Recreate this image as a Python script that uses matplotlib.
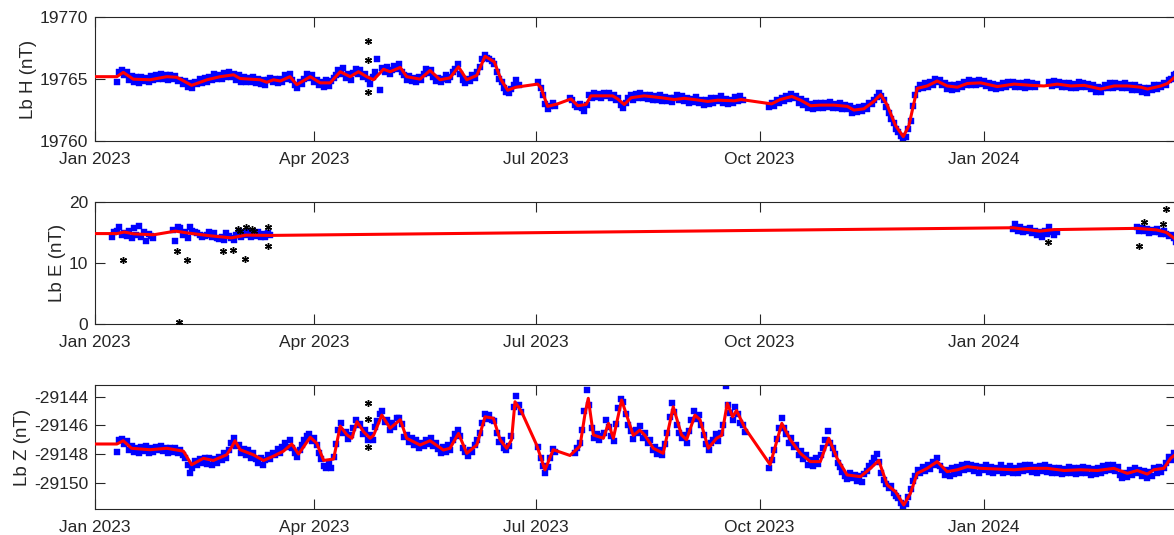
import numpy as np
import pandas as pd
import matplotlib
matplotlib.use("Agg")
import matplotlib.pyplot as plt
import matplotlib.dates as mdates

plt.rcParams['font.family'] = ['Liberation Sans', 'DejaVu Sans']
plt.rcParams['axes.unicode_minus'] = False

T0 = pd.Timestamp('2023-01-01')
X_END_DAY = 444  # days since 2023-01-01 at right edge

# ---------------- H component ----------------
H_red_days = [0, 9, 11.6, 15.7, 22.6, 29.5, 33.6, 39.7, 46, 51.4, 56.9, 59.6, 67.8, 70.6, 73.3, 76.1, 80.1, 82.9,
              88.4, 92.5, 96.6, 100.7, 104.8, 108.2, 111.6, 114.4, 118.5, 121.2, 125.4, 128, 133.5, 137.6, 141.7,
              145.8, 149.3, 152.7, 156.8, 160.2, 164, 166.8, 169.5, 172.9, 181.8, 183.2, 185.9, 190, 195.5, 198.3,
              201.7, 203.7, 207.8, 212.6, 214.7, 217.4, 220.2, 225.6, 232.5, 237.9, 242, 246.2, 251.7, 255.8,
              262.6, 265.4, 277.9, 281.4, 286.2, 289.8, 293.9, 298, 303.5, 309, 311.7, 315.8, 319.9, 322.7, 325.4,
              328.8, 332, 334.3, 337.7, 341.8, 345.9, 350, 354.2, 358.3, 363.8, 370.6, 377.5, 384.3, 389.8, 395.3,
              400.8, 406.3, 413.1, 418.6, 424.1, 429.5, 432.3, 437.8, 440.5, 444]
H_red_vals = [19765.2, 19765.2, 19765.55, 19765.0, 19764.95, 19765.2, 19765.15, 19764.5, 19764.95, 19765.2,
              19765.35, 19765.05, 19764.95, 19764.75, 19764.95, 19764.85, 19765.2, 19764.55, 19765.2, 19764.7,
              19764.7, 19765.6, 19765.2, 19765.6, 19765.2, 19764.95, 19765.8, 19765.6, 19765.95, 19765.2,
              19765.0, 19765.7, 19764.95, 19765.1, 19766.0, 19764.95, 19765.3, 19766.85, 19766.4, 19764.95,
              19764.1, 19764.35, 19764.6, 19764.3, 19762.8, 19763.0, 19763.4, 19762.85, 19762.95, 19763.65,
              19763.65, 19763.65, 19763.4, 19762.95, 19763.5, 19763.65, 19763.5, 19763.35, 19763.45, 19763.35,
              19763.2, 19763.3, 19763.25, 19763.35, 19763.0, 19763.35, 19763.6, 19763.3, 19762.85, 19762.9,
              19762.9, 19762.8, 19762.5, 19762.6, 19763.2, 19763.75, 19762.9, 19761.25, 19760.35, 19761.25,
              19764.25, 19764.45, 19764.85, 19764.45, 19764.35, 19764.65, 19764.7, 19764.4, 19764.6, 19764.5,
              19764.45, 19764.6, 19764.45, 19764.5, 19764.2, 19764.45, 19764.45, 19764.35, 19764.2, 19764.45,
              19764.65, 19765.25]

H_blue_starts = [9, 182, 195, 203, 277, 392]
H_blue_1 = [19764.75, 19765.55, 19765.7, 19765.35, 19765.6, 19764.95, 19765.25, 19764.8, 19765.15, 19764.7,
            19765.2, 19764.85, 19765.1, 19764.75, 19765.25, 19764.9, 19765.35, 19765.0, 19765.4, 19765.05,
            19765.3, 19764.95, 19765.35, 19765.0, 19765.25, 19764.85, 19764.95, 19764.6, 19764.85, 19764.35,
            19764.7, 19764.3, 19764.75, 19764.6, 19765.0, 19764.7, 19765.1, 19764.8, 19765.2, 19764.9,
            19765.45, 19765.05, 19765.35, 19765.0, 19765.5, 19765.15, 19765.6, 19765.2, 19765.45, 19764.9,
            19765.3, 19764.8, 19765.2, 19764.75, 19765.1, 19764.8, 19765.2, 19764.7, 19765.05, 19764.6,
            19764.95, 19764.5, 19764.9, 19765.1, 19764.75, 19765.05, 19764.65, 19765.0, 19764.8, 19765.3,
            19765.0, 19765.45, 19764.95, 19764.5, 19764.3, 19764.75, 19764.6, 19765.0, 19765.4, 19765.1,
            19765.35, 19764.8, 19764.95, 19764.5, 19764.75, 19764.4, 19764.9, 19764.45, 19764.85, 19765.1,
            19765.3, 19765.75, 19765.45, 19765.9, 19765.1, 19765.4, 19764.95, 19765.5, 19765.8, 19765.45,
            19765.7, 19765.15, 19765.4, 19765.0, 19764.6, 19765.2, 19765.55, 19766.6, 19764.1, 19765.9,
            19765.6, 19766.0, 19765.4, 19765.75, 19766.05, 19765.8, 19766.2, 19765.6, 19765.3, 19764.95,
            19765.25, 19764.85, 19765.1, 19764.8, 19765.2, 19764.9, 19765.45, 19765.8, 19765.5, 19765.75,
            19765.2, 19764.85, 19765.1, 19764.75, 19765.0, 19765.3, 19764.9, 19765.2, 19765.55, 19765.8,
            19766.2, 19765.45, 19764.9, 19764.7, 19765.05, 19764.85, 19765.3, 19765.1, 19765.55, 19766.0,
            19766.6, 19766.95, 19766.75, 19766.6, 19766.45, 19766.2, 19765.6, 19765.0, 19764.75, 19764.3,
            19764.0, 19763.85, 19764.2, 19764.55, 19764.9, 19764.5]
H_blue_2 = [19764.75, 19764.3, 19763.7, 19763.0, 19762.55, 19762.85, 19763.05, 19762.8]
H_blue_3 = [19763.5, 19763.3, 19762.95, 19762.75, 19763.0, 19762.7, 19762.45, 19762.9]
H_blue_4 = [19763.75, 19763.5, 19763.9, 19763.55, 19763.8, 19763.45, 19763.85, 19763.6, 19763.9, 19763.5,
            19763.75, 19763.3, 19763.5, 19762.95, 19762.7, 19763.1, 19763.45, 19763.7, 19763.35, 19763.8,
            19763.5, 19763.85, 19763.45, 19763.7, 19763.4, 19763.75, 19763.3, 19763.6, 19763.35, 19763.7,
            19763.25, 19763.55, 19763.2, 19763.5, 19763.15, 19763.45, 19763.7, 19763.3, 19763.6, 19763.2,
            19763.5, 19763.05, 19763.4, 19763.15, 19763.55, 19763.1, 19763.35, 19762.95, 19763.3, 19763.0,
            19763.45, 19763.1, 19763.5, 19763.2, 19763.6, 19763.05, 19763.4, 19763.0, 19763.35, 19763.1,
            19763.55, 19763.2, 19763.6, 19763.3]
H_blue_5 = [19762.75, 19763.1, 19762.85, 19763.3, 19763.05, 19763.5, 19763.2, 19763.65, 19763.4, 19763.8,
            19763.45, 19763.6, 19763.1, 19763.4, 19762.95, 19763.2, 19762.7, 19763.0, 19762.6, 19763.05,
            19762.7, 19763.1, 19762.65, 19763.05, 19762.75, 19763.15, 19762.7, 19763.0, 19762.65, 19763.1,
            19762.6, 19762.95, 19762.55, 19762.85, 19762.3, 19762.65, 19762.35, 19762.75, 19762.4, 19762.8,
            19762.6, 19763.05, 19763.0, 19763.35, 19763.55, 19763.9, 19763.6, 19763.3, 19762.75, 19762.3,
            19761.8, 19761.45, 19761.0, 19760.75, 19760.4, 19760.1, 19760.3, 19760.95, 19761.6, 19762.8,
            19763.7, 19764.2, 19764.5, 19764.3, 19764.7, 19764.4, 19764.8, 19764.55, 19765.0, 19764.75,
            19764.95, 19764.5, 19764.65, 19764.2, 19764.55, 19764.1, 19764.5, 19764.2, 19764.6, 19764.35,
            19764.8, 19764.5, 19764.9, 19764.55, 19764.85, 19764.5, 19764.95, 19764.6, 19764.85, 19764.45,
            19764.7, 19764.3, 19764.6, 19764.2, 19764.55, 19764.3, 19764.7, 19764.4, 19764.8, 19764.5,
            19764.75, 19764.4, 19764.7, 19764.35, 19764.65, 19764.3, 19764.75, 19764.4, 19764.65, 19764.35,
            19764.6]
H_blue_6 = [19764.75, 19764.45, 19764.85, 19764.55, 19764.8, 19764.4, 19764.7, 19764.35, 19764.65, 19764.3,
            19764.6, 19764.25, 19764.75, 19764.4, 19764.7, 19764.35, 19764.6, 19764.2, 19764.5, 19764.0,
            19764.35, 19763.95, 19764.3, 19764.55, 19764.25, 19764.65, 19764.3, 19764.7, 19764.35, 19764.6,
            19764.25, 19764.7, 19764.3, 19764.55, 19764.15, 19764.5, 19764.1, 19764.4, 19763.95, 19764.25,
            19763.9, 19764.3, 19764.1, 19764.5, 19764.2, 19764.55, 19764.35, 19764.7, 19764.55, 19764.9,
            19765.0, 19765.3, 19765.45]
H_star_days = [112.3, 112.3, 112.3]
H_star_vals = [19768.05, 19766.55, 19764.0]

# ---------------- E component ----------------
E_red_days = [0, 9, 12, 16, 24, 33, 38, 47, 56, 62, 72, 377, 379, 388, 394, 428, 436, 440, 444]
E_red_vals = [14.8, 14.8, 15.05, 14.75, 14.6, 15.2, 14.9, 14.45, 14.1, 14.55, 14.5, 15.75, 15.65, 15.2,
              15.45, 15.65, 15.4, 15.0, 13.8]
E_blue_starts = [7, 32, 377, 428]
E_blue_1 = [14.3, 15.0, 15.3, 15.9, 14.6, 14.9, 14.4, 15.3, 14.0, 15.65, 14.55, 16.0, 14.2, 15.1, 13.6,
            14.8, 14.4, 14.1]
E_blue_2 = [15.4, 13.6, 15.9, 15.7, 14.6, 15.0, 14.0, 15.8, 15.3, 15.1, 14.9, 14.6, 14.3, 14.4, 14.6, 15.0,
            14.2, 14.85, 14.0, 13.9, 14.3, 13.7, 14.9, 14.4, 14.1, 13.8, 14.6, 15.3, 14.2, 14.9, 14.5, 15.1,
            14.3, 14.8, 14.4, 15.0, 14.2, 14.7, 14.3, 14.9, 14.5]
E_blue_3 = [15.6, 16.4, 15.3, 15.9, 15.0, 15.6, 15.2, 15.7, 14.9, 15.3, 14.6, 15.0, 14.3, 15.2, 14.8, 15.8,
            15.0, 14.6, 15.1]
E_blue_4 = [15.9, 15.3, 15.7, 15.2, 15.5, 14.9, 15.4, 15.0, 15.6, 15.1, 14.8, 15.3, 14.7, 14.4, 14.6, 14.0,
            13.5]
E_star_days = [11.6, 33.5, 34.7, 37.7, 52.4, 56.6, 58.9, 59.5, 61.6, 62.0, 64.5, 65.5, 71.2, 71.2, 391.5,
               429.0, 430.9, 438.7, 440.0]
E_star_vals = [10.5, 12.0, 0.4, 10.5, 11.9, 12.2, 15.6, 15.2, 10.7, 15.9, 15.6, 15.3, 12.7, 15.9, 13.4,
               12.8, 16.7, 16.3, 18.8]

# ---------------- Z component ----------------
Z_red_days = [0, 9, 11.6, 15, 22.6, 29.5, 36.3, 39.7, 44.5, 48.6, 54.1, 56.2, 57.5, 59.6, 65, 69.2, 73.3,
              77.4, 80.8, 83.6, 88.4, 91.1, 93.9, 98, 100.7, 103.5, 105.5, 107.6, 110.3, 113, 114.4, 117.8,
              121.2, 125.4, 128, 133.5, 137.6, 143.1, 145.8, 149.3, 152.7, 156.8, 160.2, 163.6, 166.4, 169.1,
              171.1, 172.5, 175.2, 181.4, 184.8, 188.2, 195.1, 199.2, 201.3, 202.6, 204.7, 208.8, 210.9, 212.9,
              216.3, 221.1, 223.8, 225.9, 229.3, 233.4, 237.5, 240.9, 243, 246.4, 248.5, 251.9, 255.3, 257.4,
              259.7, 261.9, 263.5, 267, 277.3, 282.1, 285.6, 289.7, 293.8, 297.9, 301.4, 304.8, 308.9, 314.4,
              318.5, 321.9, 325.4, 328.8, 332.2, 334.9, 337.7, 341.8, 345.9, 350, 354.2, 358.3, 363.8, 370.6,
              377.5, 384.3, 391.1, 398, 404.8, 411.7, 418.5, 424, 428.1, 432.2, 434.9, 439, 441.8, 444]
Z_red_vals = [-29147.3, -29147.3, -29147.07, -29147.6, -29147.7, -29147.6, -29147.8, -29148.75, -29148.3,
              -29148.45, -29148.05, -29147.5, -29147.07, -29147.7, -29148.05, -29148.45, -29148.15, -29147.8,
              -29147.3, -29148.0, -29146.83, -29147.25, -29148.45, -29148.35, -29146.05, -29146.67, -29146.9,
              -29145.74, -29146.44, -29146.9, -29146.7, -29145.28, -29146.2, -29145.6, -29146.9, -29147.37,
              -29147.07, -29147.72, -29147.6, -29146.56, -29147.95, -29147.37, -29145.4, -29145.5, -29147.0,
              -29147.6, -29147.0, -29144.35, -29145.05, -29147.37, -29149.11, -29147.7, -29148.1, -29147.45,
              -29145.16, -29144.11, -29146.67, -29146.9, -29145.86, -29146.9, -29144.23, -29146.7, -29146.33,
              -29146.7, -29147.6, -29147.95, -29144.7, -29146.67, -29147.0, -29145.28, -29145.6, -29147.6,
              -29146.9, -29146.7, -29144.46, -29145.4, -29144.96, -29146.2, -29148.74, -29145.86, -29147.0,
              -29147.95, -29148.53, -29148.53, -29146.9, -29148.3, -29149.46, -29149.58, -29149.0, -29148.45,
              -29150.16, -29150.63, -29151.56, -29150.75, -29149.35, -29149.0, -29148.53, -29149.23, -29149.1,
              -29148.88, -29149.0, -29149.05, -29149.1, -29149.0, -29149.0, -29149.15, -29149.1, -29149.15,
              -29149.0, -29149.35, -29149.15, -29149.4, -29149.1, -29149.0, -29148.3, -29148.0]
Z_blue_starts = [9, 182, 197, 277]
Z_blue_1 = [-29147.85, -29147.0, -29146.95, -29147.3, -29147.1, -29147.7, -29147.45, -29147.85, -29147.55,
            -29147.9, -29147.5, -29147.8, -29147.45, -29147.95, -29147.6, -29147.85, -29147.5, -29147.75,
            -29147.45, -29147.8, -29147.55, -29147.9, -29147.6, -29147.85, -29147.55, -29147.95, -29147.7,
            -29148.05, -29148.3, -29148.75, -29149.3, -29148.95, -29148.5, -29148.8, -29148.35, -29148.6,
            -29148.25, -29148.7, -29148.3, -29148.75, -29148.35, -29148.6, -29148.2, -29148.45, -29147.95,
            -29148.3, -29147.7, -29147.25, -29146.85, -29147.45, -29147.35, -29147.95, -29147.65, -29148.1,
            -29147.75, -29148.25, -29147.9, -29148.35, -29148.6, -29148.3, -29148.75, -29148.4, -29148.05,
            -29148.35, -29147.9, -29148.1, -29147.65, -29147.95, -29147.5, -29147.2, -29147.5, -29147.05,
            -29147.6, -29147.95, -29148.2, -29147.7, -29147.4, -29147.05, -29146.75, -29146.6, -29147.1,
            -29146.9, -29147.4, -29147.9, -29148.35, -29148.85, -29149.0, -29148.6, -29148.95, -29148.2,
            -29147.3, -29146.3, -29145.85, -29146.55, -29146.45, -29146.95, -29146.65, -29146.2, -29145.6,
            -29145.95, -29145.9, -29146.6, -29146.3, -29147.0, -29146.7, -29147.05, -29146.1, -29145.7,
            -29145.2, -29145.0, -29145.75, -29145.6, -29146.35, -29145.85, -29146.1, -29145.5, -29145.45,
            -29145.9, -29146.8, -29146.65, -29147.15, -29146.85, -29147.35, -29147.05, -29147.55, -29147.2,
            -29147.45, -29147.0, -29147.3, -29146.9, -29147.45, -29147.25, -29147.65, -29147.95, -29147.5,
            -29147.85, -29147.4, -29147.7, -29147.0, -29146.6, -29146.3, -29146.75, -29147.55, -29147.85,
            -29148.15, -29147.7, -29147.85, -29147.4, -29147.0, -29146.5, -29145.8, -29145.2, -29145.55,
            -29145.25, -29145.65, -29145.7, -29146.55, -29147.15, -29147.0, -29147.55, -29147.75, -29147.45,
            -29146.75, -29144.75, -29143.95, -29144.6, -29145.1]
Z_blue_2 = [-29147.5, -29148.3, -29148.85, -29149.3, -29148.9, -29148.25, -29147.65, -29147.85]
Z_blue_3 = [-29147.95, -29147.6, -29147.25, -29146.3, -29145.0, -29143.5, -29144.6, -29146.2, -29146.85,
            -29146.6, -29147.05, -29146.75, -29146.5, -29145.6, -29146.1, -29146.75, -29147.1, -29145.9,
            -29144.8, -29144.15, -29144.4, -29145.2, -29145.95, -29146.4, -29146.95, -29146.3, -29146.55,
            -29146.05, -29146.85, -29146.5, -29147.2, -29147.0, -29147.75, -29147.5, -29148.0, -29147.75,
            -29148.1, -29147.3, -29146.5, -29145.4, -29144.45, -29145.1, -29146.0, -29146.55, -29146.9,
            -29146.65, -29147.2, -29146.4, -29145.6, -29145.0, -29145.55, -29145.3, -29146.0, -29146.7,
            -29147.3, -29147.75, -29147.2, -29147.05, -29146.6, -29147.1, -29146.55, -29146.0, -29143.25,
            -29144.6, -29145.15, -29145.6, -29144.7, -29145.2, -29145.8, -29146.0, -29146.45]
Z_blue_4 = [-29148.95, -29148.4, -29147.7, -29146.95, -29146.2, -29145.5, -29146.15, -29146.6, -29147.2,
            -29146.85, -29147.5, -29147.35, -29148.05, -29147.8, -29148.35, -29148.1, -29148.75, -29148.4,
            -29148.85, -29148.3, -29148.7, -29148.1, -29147.6, -29147.0, -29146.4, -29147.2, -29147.6,
            -29148.0, -29148.6, -29148.9, -29149.25, -29149.5, -29149.75, -29149.3, -29149.7, -29149.45,
            -29149.9, -29149.55, -29149.95, -29149.4, -29149.2, -29148.85, -29148.6, -29148.25, -29148.0,
            -29148.55, -29149.3, -29149.8, -29150.1, -29150.4, -29150.2, -29150.75, -29150.9, -29151.1,
            -29151.4, -29151.75, -29151.5, -29151.0, -29150.45, -29149.9, -29149.5, -29149.1, -29149.35,
            -29148.9, -29149.2, -29148.75, -29149.05, -29148.55, -29148.75, -29148.3, -29148.85, -29149.1,
            -29149.45, -29149.15, -29149.55, -29149.0, -29149.4, -29148.9, -29149.3, -29148.8, -29149.15,
            -29148.7, -29149.05, -29148.75, -29149.2, -29148.85, -29149.3, -29148.9, -29149.15, -29148.8,
            -29149.25, -29148.9, -29149.35, -29148.95, -29149.2, -29148.8, -29149.3, -29148.95, -29149.25,
            -29148.85, -29149.35, -29149.0, -29149.3, -29148.85, -29149.2, -29148.8, -29149.15, -29148.75,
            -29149.25, -29148.9, -29149.3, -29148.85, -29149.2, -29148.8, -29149.25, -29148.9, -29149.35,
            -29149.0, -29149.3, -29148.95, -29149.4, -29149.05, -29149.35, -29148.9, -29149.3, -29148.95,
            -29149.4, -29149.0, -29149.35, -29148.9, -29149.3, -29149.0, -29149.45, -29149.05, -29149.4,
            -29148.95, -29149.3, -29148.85, -29149.2, -29148.8, -29149.15, -29148.75, -29149.2, -29148.9,
            -29149.45, -29149.7, -29149.3, -29149.6, -29149.1, -29149.45, -29149.0, -29149.35, -29149.1,
            -29149.5, -29149.2, -29149.7, -29149.25, -29149.55, -29149.0, -29149.3, -29148.9, -29149.25,
            -29148.95, -29148.6, -29148.2, -29148.4, -29147.9, -29148.05]
Z_star_days = [112.3, 112.3, 112.3]
Z_star_vals = [-29144.46, -29145.58, -29147.49]

Y_LABELS = ['Lb H (nT)', 'Lb E (nT)', 'Lb Z (nT)']
Y_LIMS = [(19760, 19770), (0, 20), (-29151.86, -29143.18)]
Y_TICKS = [[19760, 19765, 19770], [0, 10, 20], [-29150, -29148, -29146, -29144]]
X_TICKS = ['2023-01-01', '2023-04-01', '2023-07-01', '2023-10-01', '2024-01-01']


def to_dates(days):
    return T0 + pd.to_timedelta(np.asarray(days, dtype=float), unit='D')


def seg_dates(start, n):
    return to_dates(start + np.arange(n))


AX_COLOR = '#262626'
fig = plt.figure(figsize=(11.74, 5.35), dpi=100)
W, H = 1174.0, 535.0
left = 95 / W
width = (1176 - 95) / W
boxes = [(17.3, 141), (201.7, 324.3), (385, 509.3)]

panels = [
    (H_red_days, H_red_vals, H_blue_starts, [H_blue_1, H_blue_2, H_blue_3, H_blue_4, H_blue_5, H_blue_6],
     H_star_days, H_star_vals),
    (E_red_days, E_red_vals, E_blue_starts, [E_blue_1, E_blue_2, E_blue_3, E_blue_4], E_star_days, E_star_vals),
    (Z_red_days, Z_red_vals, Z_blue_starts, [Z_blue_1, Z_blue_2, Z_blue_3, Z_blue_4], Z_star_days, Z_star_vals),
]

for i, (rd, rv, starts, segs, sd, sv) in enumerate(panels):
    top, bot = boxes[i]
    ax = fig.add_axes([left, 1 - bot / H, width, (bot - top) / H])
    for st, seg in zip(starts, segs):
        ax.plot(seg_dates(st, len(seg)), seg, linestyle='none', marker='s', ms=3.9,
                mfc='#0000ff', mec='#0000ff', mew=0.3, zorder=2)
    ax.plot(to_dates(sd), sv, linestyle='none', marker=(6, 2, 0), ms=5, mec='black', mew=1.0, zorder=3)
    ax.plot(to_dates(rd), rv, color='#ff0000', lw=2.2, zorder=4)
    ax.set_xlim(T0, T0 + pd.Timedelta(days=X_END_DAY))
    ax.set_ylim(*Y_LIMS[i])
    ax.set_yticks(Y_TICKS[i])
    ax.set_yticklabels([f'{t:d}' for t in Y_TICKS[i]])
    ax.set_xticks(pd.to_datetime(X_TICKS))
    ax.xaxis.set_major_formatter(mdates.DateFormatter('%b %Y'))
    ax.tick_params(axis='both', direction='in', length=7, width=0.8, colors=AX_COLOR,
                   labelsize=12.5, top=True, right=True, pad=5)
    ax.tick_params(axis='x', pad=8)
    for sp in ax.spines.values():
        sp.set_color(AX_COLOR)
        sp.set_linewidth(0.8)
    ax.set_ylabel(Y_LABELS[i], fontsize=13.5, color=AX_COLOR, labelpad=2)

fig.savefig('out.png', dpi=100)
